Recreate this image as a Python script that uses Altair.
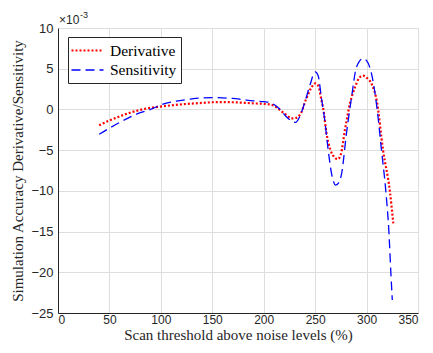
import altair as alt
import pandas as pd

# Values in units of 1e-3
der_x = [40, 50, 60, 70, 80, 90, 100, 110, 120, 130, 140, 150, 160, 170, 180, 190, 200, 206, 210, 216, 222, 227, 231, 236, 241, 246, 250, 253, 256, 258, 261, 265, 269, 272, 275, 279, 284, 289, 293, 296.5, 300, 305, 310, 316, 322.6, 326]
der_y = [-1.95, -1.35, -0.85, -0.4, -0.05, 0.2, 0.35, 0.5, 0.62, 0.72, 0.8, 0.88, 0.9, 0.88, 0.82, 0.75, 0.68, 0.6, 0.45, -0.1, -0.7, -1.1, -1.05, -0.5, 1.2, 2.6, 3.2, 2.9, 1.2, 0.0, -2.9, -5.0, -5.9, -6.1, -5.5, -2.5, 0.8, 2.8, 3.9, 4.15, 3.9, 3.1, 1.0, -5.0, -10.0, -14.0]

sen_x = [40, 50, 60, 70, 80, 90, 100, 110, 120, 130, 140, 150, 160, 170, 180, 190, 200, 206, 210, 216, 222, 227, 231, 235, 240, 245, 250, 253, 256, 259.3, 262.7, 266, 270, 273, 275.7, 280.5, 285.4, 290.2, 296.7, 300, 304.8, 310.3, 314.5, 318.7, 321.7, 323.6, 325]
sen_y = [-3.05, -2.3, -1.6, -0.95, -0.4, 0.0, 0.55, 0.9, 1.1, 1.3, 1.42, 1.45, 1.42, 1.35, 1.2, 1.05, 0.95, 0.85, 0.6, 0.0, -0.9, -1.4, -1.6, -0.9, 0.9, 3.0, 4.6, 4.1, 1.5, -1.3, -5.0, -7.9, -9.3, -9.0, -7.9, -2.9, 1.5, 5.2, 6.25, 6.0, 4.4, 0.0, -5.0, -10.0, -15.0, -20.0, -23.4]

series_names = ["Derivative", "Sensitivity"]
x_ticks = [0, 50, 100, 150, 200, 250, 300, 350]
y_ticks = [-25, -20, -15, -10, -5, 0, 5, 10]

df = pd.concat([
    pd.DataFrame({"x": der_x, "y": der_y, "series": series_names[0]}),
    pd.DataFrame({"x": sen_x, "y": sen_y, "series": series_names[1]}),
])

AX = "#262626"
GRID = "#dedede"
SANS = "Liberation Sans"
SERIF = "Liberation Serif"

leg = alt.Legend(
    title=None, orient="none", legendX=10, legendY=9,
    symbolType="M-2,0H2", symbolSize=256, symbolOffset=6,
    labelFont=SERIF, labelFontSize=15.5,
    labelColor="#000000", strokeColor=AX, fillColor="white", padding=4,
    rowPadding=2, labelOffset=13, cornerRadius=0,
)

lines = alt.Chart(df).mark_line(interpolate="monotone", clip=True).encode(
    x=alt.X("x:Q", scale=alt.Scale(domain=[0, 350], nice=False, zero=False),
            axis=alt.Axis(values=x_ticks, title="Scan threshold above noise levels (%)",
                          grid=True, gridColor=GRID, domainColor=AX, ticks=False,
                          labelFont=SANS, labelFontSize=12, labelColor=AX, labelPadding=1,
                          titleFont=SERIF, titleFontSize=15, titleFontWeight="normal",
                          titleColor=AX, titleBaseline="alphabetic", titleY=26)),
    y=alt.Y("y:Q", scale=alt.Scale(domain=[-25, 10], nice=False, zero=False),
            axis=alt.Axis(values=y_ticks, title="Simulation Accuracy Derivative/Sensitivity",
                          grid=True, gridColor=GRID, domainColor=AX, ticks=False,
                          labelFont=SANS, labelFontSize=13, labelColor=AX, labelPadding=5,
                          titleFont=SERIF, titleFontSize=15, titleFontWeight="normal",
                          titleColor=AX, titleBaseline="alphabetic", titleX=-36, titleY=142.5,
                          titleAnchor="middle")),
    color=alt.Color("series:N", scale=alt.Scale(domain=series_names, range=["#ff0000", "#0000ff"]), legend=leg),
    strokeDash=alt.StrokeDash("series:N", scale=alt.Scale(domain=series_names, range=[[2, 2], [9, 5]]), legend=leg),
    strokeWidth=alt.StrokeWidth("series:N", scale=alt.Scale(domain=series_names, range=[2.2, 1.3]), legend=leg),
)

times = alt.Chart(pd.DataFrame({"t": ["\u00d710"]})).mark_text(
    font=SANS, fontSize=12, color=AX, align="left", baseline="alphabetic"
).encode(text="t:N", x=alt.value(1), y=alt.value(-4))

expo = alt.Chart(pd.DataFrame({"t": ["-3"]})).mark_text(
    font=SANS, fontSize=9, color=AX, align="left", baseline="alphabetic"
).encode(text="t:N", x=alt.value(22), y=alt.value(-10))

chart = alt.layer(lines, times, expo).properties(
    width=360, height=285,
    autosize=alt.AutoSizeParams(type="none"),
    padding={"left": 58, "top": 28, "right": 15, "bottom": 40},
).configure_view(stroke=AX, strokeWidth=1).configure(background="white")

chart.save("out.html", embed_options={"renderer": "svg", "actions": False})
